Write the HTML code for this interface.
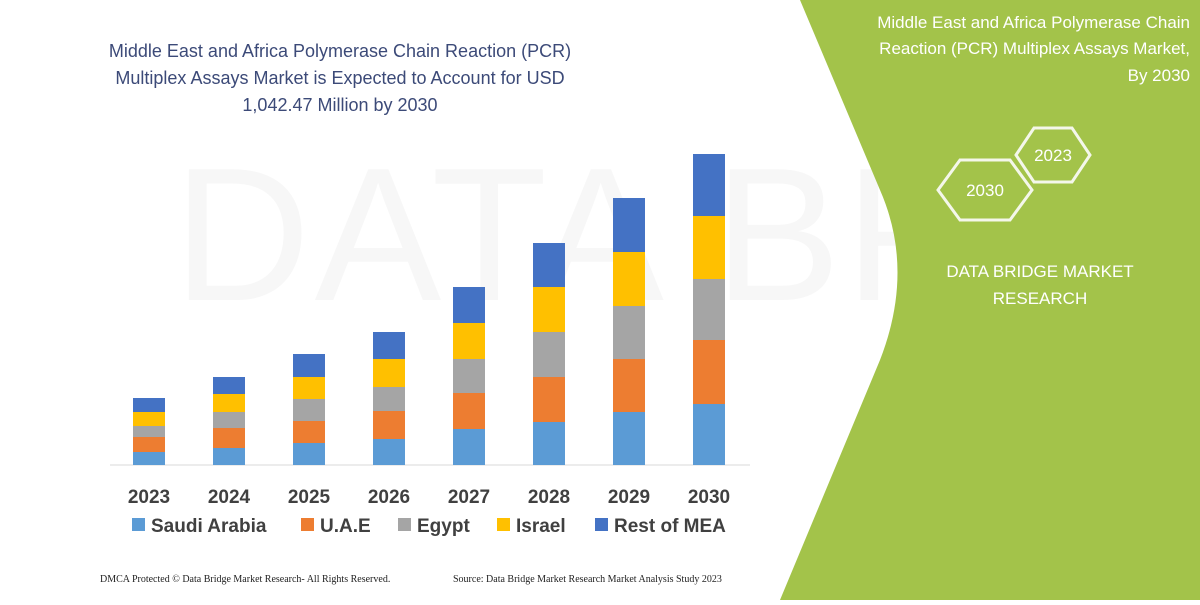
<!DOCTYPE html>
<html><head><meta charset="utf-8"><style>
body{margin:0;width:1200px;height:600px;overflow:hidden;background:#fff;font-family:"Liberation Sans",sans-serif}
</style></head><body>
<svg width="1200" height="600" viewBox="0 0 1200 600" xmlns="http://www.w3.org/2000/svg">
<rect width="1200" height="600" fill="#fff"/>
<text x="820" y="300" font-size="190" fill="#f7f7f7" text-anchor="middle" font-family="Liberation Sans" letter-spacing="4">DATA BRIDGE</text>
<path d="M800,0 L1200,0 L1200,600 L780,600 L880,360 Q915,270 880,190 Z" fill="#a3c34a"/>
<g font-family="Liberation Sans" font-size="17" fill="#fff" text-anchor="end">
<text x="1190" y="28">Middle East and Africa Polymerase Chain</text>
<text x="1190" y="54">Reaction (PCR) Multiplex Assays Market,</text>
<text x="1190" y="81">By 2030</text>
</g>
<g fill="none" stroke="#f4f7ea" stroke-width="3">
<polygon points="1016,155 1034,128 1072,128 1090,155 1072,182 1034,182"/>
<polygon points="938,190 960,160 1010,160 1032,190 1010,220 960,220"/>
</g>
<g font-family="Liberation Sans" font-size="17" fill="#fff" text-anchor="middle">
<text x="1053" y="161">2023</text>
<text x="985" y="196">2030</text>
<text x="1040" y="277">DATA BRIDGE MARKET</text>
<text x="1040" y="304">RESEARCH</text>
</g>
<g font-family="Liberation Sans" font-size="18" fill="#3c4a78" text-anchor="middle">
<text x="340" y="57">Middle East and Africa Polymerase Chain Reaction (PCR)</text>
<text x="340" y="84">Multiplex Assays Market is Expected to Account for USD</text>
<text x="340" y="111">1,042.47 Million by 2030</text>
</g>
<line x1="110" y1="465" x2="750" y2="465" stroke="#d9d9d9" stroke-width="1"/>
<g>
<rect x="133" y="398" width="32" height="14" fill="#4472c4"/><rect x="133" y="412" width="32" height="14" fill="#ffc000"/><rect x="133" y="426" width="32" height="11" fill="#a5a5a5"/><rect x="133" y="437" width="32" height="15" fill="#ed7d31"/><rect x="133" y="452" width="32" height="13" fill="#5b9bd5"/>
<rect x="213" y="377" width="32" height="17" fill="#4472c4"/><rect x="213" y="394" width="32" height="18" fill="#ffc000"/><rect x="213" y="412" width="32" height="16" fill="#a5a5a5"/><rect x="213" y="428" width="32" height="20" fill="#ed7d31"/><rect x="213" y="448" width="32" height="17" fill="#5b9bd5"/>
<rect x="293" y="354" width="32" height="23" fill="#4472c4"/><rect x="293" y="377" width="32" height="22" fill="#ffc000"/><rect x="293" y="399" width="32" height="22" fill="#a5a5a5"/><rect x="293" y="421" width="32" height="22" fill="#ed7d31"/><rect x="293" y="443" width="32" height="22" fill="#5b9bd5"/>
<rect x="373" y="332" width="32" height="27" fill="#4472c4"/><rect x="373" y="359" width="32" height="28" fill="#ffc000"/><rect x="373" y="387" width="32" height="24" fill="#a5a5a5"/><rect x="373" y="411" width="32" height="28" fill="#ed7d31"/><rect x="373" y="439" width="32" height="26" fill="#5b9bd5"/>
<rect x="453" y="287" width="32" height="36" fill="#4472c4"/><rect x="453" y="323" width="32" height="36" fill="#ffc000"/><rect x="453" y="359" width="32" height="34" fill="#a5a5a5"/><rect x="453" y="393" width="32" height="36" fill="#ed7d31"/><rect x="453" y="429" width="32" height="36" fill="#5b9bd5"/>
<rect x="533" y="243" width="32" height="44" fill="#4472c4"/><rect x="533" y="287" width="32" height="45" fill="#ffc000"/><rect x="533" y="332" width="32" height="45" fill="#a5a5a5"/><rect x="533" y="377" width="32" height="45" fill="#ed7d31"/><rect x="533" y="422" width="32" height="43" fill="#5b9bd5"/>
<rect x="613" y="198" width="32" height="54" fill="#4472c4"/><rect x="613" y="252" width="32" height="54" fill="#ffc000"/><rect x="613" y="306" width="32" height="53" fill="#a5a5a5"/><rect x="613" y="359" width="32" height="53" fill="#ed7d31"/><rect x="613" y="412" width="32" height="53" fill="#5b9bd5"/>
<rect x="693" y="154" width="32" height="62" fill="#4472c4"/><rect x="693" y="216" width="32" height="63" fill="#ffc000"/><rect x="693" y="279" width="32" height="61" fill="#a5a5a5"/><rect x="693" y="340" width="32" height="64" fill="#ed7d31"/><rect x="693" y="404" width="32" height="61" fill="#5b9bd5"/>
</g>
<g font-family="Liberation Sans" font-size="19" font-weight="bold" fill="#404040" text-anchor="middle">
<text x="149" y="503">2023</text><text x="229" y="503">2024</text><text x="309" y="503">2025</text><text x="389" y="503">2026</text><text x="469" y="503">2027</text><text x="549" y="503">2028</text><text x="629" y="503">2029</text><text x="709" y="503">2030</text>
</g>
<g font-family="Liberation Sans" font-size="19" font-weight="bold" fill="#404040">
<rect x="132" y="518" width="13" height="13" fill="#5b9bd5"/><text x="151" y="532">Saudi Arabia</text>
<rect x="301" y="518" width="13" height="13" fill="#ed7d31"/><text x="320" y="532">U.A.E</text>
<rect x="398" y="518" width="13" height="13" fill="#a5a5a5"/><text x="417" y="532">Egypt</text>
<rect x="497" y="518" width="13" height="13" fill="#ffc000"/><text x="516" y="532">Israel</text>
<rect x="595" y="518" width="13" height="13" fill="#4472c4"/><text x="614" y="532">Rest of MEA</text>
</g>
<g font-family="Liberation Serif" font-size="10" fill="#222">
<text x="100" y="582">DMCA Protected © Data Bridge Market Research-  All Rights Reserved.</text>
<text x="453" y="582">Source: Data Bridge Market Research  Market Analysis Study 2023</text>
</g>
</svg>
</body></html>
